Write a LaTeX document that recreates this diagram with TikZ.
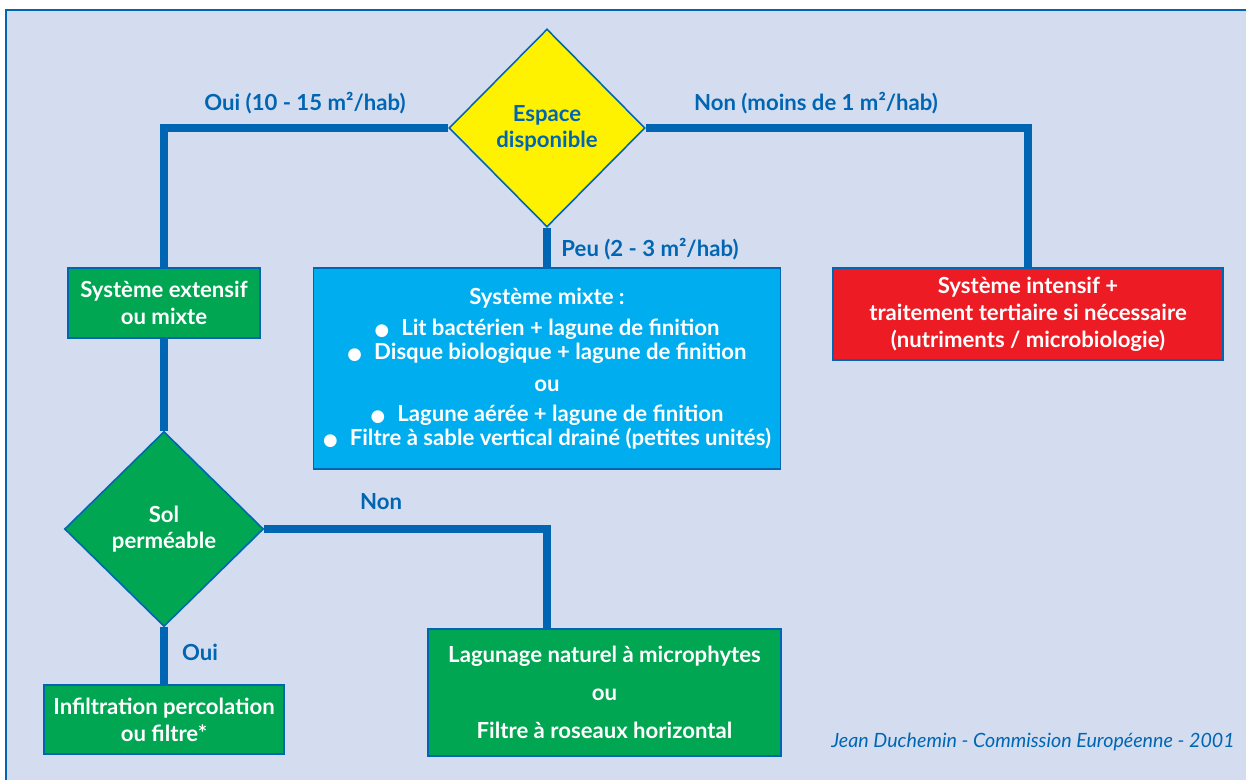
\documentclass[tikz,border=0pt]{standalone}
\usepackage{fontspec}
\setmainfont{Lato}
\newfontfamily\symbfont{DejaVu Sans}
\usetikzlibrary{shapes.geometric,backgrounds}
\definecolor{fondbleu}{RGB}{212,221,239}
\definecolor{traitbleu}{RGB}{0,102,179}
\definecolor{vertbox}{RGB}{0,166,81}
\definecolor{cyanbox}{RGB}{0,174,239}
\definecolor{rougebox}{RGB}{237,28,36}
\definecolor{jaunebox}{RGB}{255,242,0}
\newcommand{\puce}{{\symbfont\fontsize{9.5}{9.5}\selectfont ●}\hspace{0.55em}}

\begin{document}
\begin{tikzpicture}[
				lien/.style={draw=traitbleu,line width=4.8pt,line join=miter},
				boite/.style={draw=traitbleu,line width=0.9pt,rectangle,align=center,inner sep=0pt,text=white,font=\fontsize{12.6}{15.3}\selectfont\bfseries},
				choix/.style={draw=traitbleu,line width=0.9pt,diamond,aspect=1,align=center,inner sep=0pt,font=\fontsize{12.6}{14.7}\selectfont\bfseries},
				etiquette/.style={text=traitbleu,inner sep=0pt,font=\fontsize{12.6}{13}\selectfont\bfseries}
			]
			\useasboundingbox (0,0) rectangle (24.92,-15.58);
			\node[choix,fill=jaunebox,text=traitbleu,minimum width=3.92cm,minimum height=3.96cm] (espace) at (10.94,-2.56) {Espace\\disponible};
			\node[boite,fill=vertbox,minimum width=3.84cm,minimum height=1.4cm] (extensif) at (3.28,-6.06) {Système extensif\\ou mixte};
			\node[boite,fill=cyanbox,minimum width=9.34cm,minimum height=4.02cm,font=\fontsize{12.6}{13.6}\selectfont\bfseries] (mixte) at (10.94,-7.37) {Système mixte :\\[4pt]
					\puce Lit bactérien + lagune de finition\\
					\puce Disque biologique + lagune de finition\\[5pt]
					ou\\[3.4pt]
					\puce Lagune aérée + lagune de finition\\
					\puce Filtre à sable vertical drainé (petites unités)};
			\node[boite,fill=rougebox,minimum width=7.8cm,minimum height=1.84cm] (intensif) at (20.56,-6.28) {Système intensif +\\traitement tertiaire si nécessaire\\(nutriments / microbiologie)};
			\node[choix,fill=vertbox,text=white,minimum width=3.98cm,minimum height=3.9cm] (sol) at (3.28,-10.58) {Sol\\perméable};
			\node[boite,fill=vertbox,minimum width=4.8cm,minimum height=1.38cm] (infiltration) at (3.28,-14.39) {Infiltration percolation\\ou filtre*};
			\node[boite,fill=vertbox,minimum width=7.06cm,minimum height=2.54cm,font=\fontsize{12.6}{21.8}\selectfont\bfseries] (lagunage) at (12.09,-13.85) {Lagunage naturel à microphytes\\ou\\Filtre à roseaux horizontal};
			\node[etiquette] (ouiespace) at (6.1,-2.06) {Oui (10 - 15 m²/hab)};
			\node[etiquette] (nonespace) at (16.32,-2.06) {Non (moins de 1 m²/hab)};
			\node[etiquette] (peuespace) at (13.0,-4.98) {Peu (2 - 3 m²/hab)};
			\node[etiquette] (nonsol) at (7.62,-10.04) {Non};
			\node[etiquette] (ouisol) at (4.0,-13.04) {Oui};
			\node[text=traitbleu,anchor=east,inner sep=0pt,font=\fontsize{11.2}{13}\selectfont\itshape] (signature) at (24.7,-14.84) {Jean Duchemin - Commission Européenne - 2001};
			\begin{scope}[on background layer]
				\draw[draw=traitbleu,fill=fondbleu,line width=1.7pt] (0.12,-0.2) rectangle (25.2,-15.9);
				\draw[lien] (espace.west) -| (extensif.north);
				\draw[lien] (espace.east) -| (intensif.north);
				\draw[lien] (espace.south) -- (mixte.north);
				\draw[lien] (extensif.south) -- (sol.north);
				\draw[lien] (sol.south) -- (infiltration.north);
				\draw[lien] (sol.east) -| (lagunage.north -| mixte.south);
			\end{scope}
		\end{tikzpicture}
\end{document}
